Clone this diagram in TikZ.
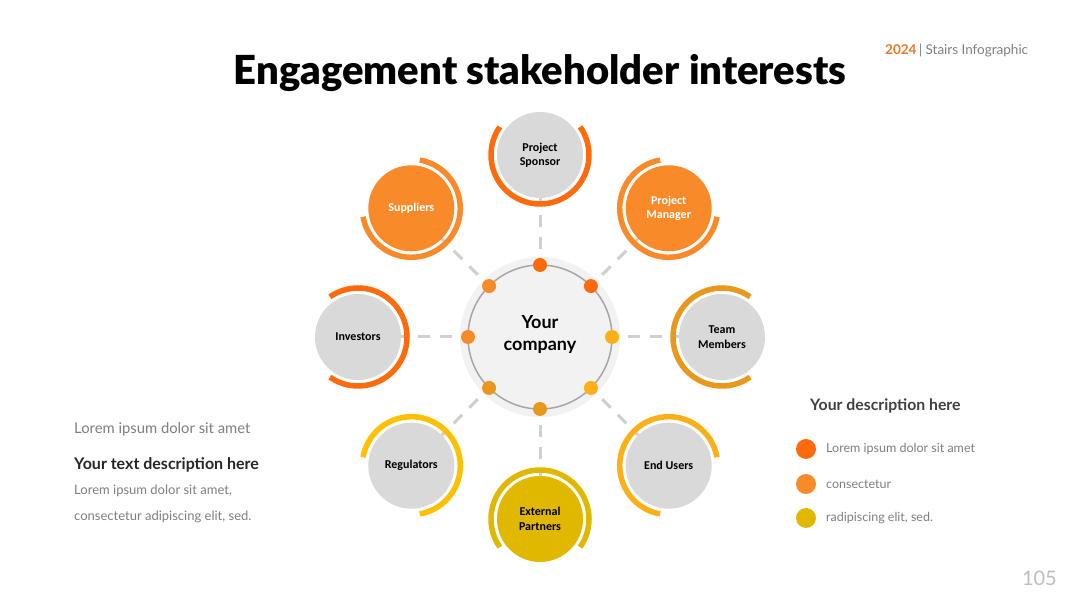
\documentclass[tikz,border=0pt]{standalone}
\usepackage{fontspec}
\setmainfont{Lato}
\newfontfamily\carl{Carlito}
\newfontfamily\titlefont{Lato Black}
\usetikzlibrary{backgrounds,calc}
\definecolor{cRed}{HTML}{FF6A0D}
\definecolor{cOrg}{HTML}{F98A2A}
\definecolor{cAmb}{HTML}{E8981C}
\definecolor{cAmb2}{HTML}{FBB017}
\definecolor{cYel}{HTML}{FFC000}
\definecolor{cGold}{HTML}{E0B800}
\definecolor{satgray}{HTML}{D9D9D9}
\definecolor{discgray}{HTML}{F2F2F2}
\definecolor{ringgray}{HTML}{A6A6A6}
\definecolor{linkgray}{HTML}{D0D0D0}
\definecolor{txtgray}{HTML}{7F7F7F}
\definecolor{dark}{HTML}{262626}
\definecolor{dark2}{HTML}{404040}
\definecolor{hdrorange}{HTML}{F07828}
\definecolor{pagegray}{HTML}{BFBFBF}
\begin{document}
\begin{tikzpicture}[x=1pt,y=1pt,
  sat/.style={circle, minimum size=86pt, inner sep=0pt, align=center,
    font=\carl\bfseries\fontsize{12}{14.5}\selectfont},
  arcln/.style={line width=5.5pt},
  link/.style={draw=linkgray, line width=3pt, dash pattern=on 12pt off 10pt},
  rdot/.style={circle, minimum size=14pt, inner sep=0pt},
  ldot/.style={circle, minimum size=20pt, inner sep=0pt},
  legtxt/.style={anchor=west, inner sep=0pt, text=txtgray, font=\fontsize{12.5}{15}\selectfont},
  lefttxt/.style={anchor=west, inner sep=0pt, text=txtgray},
]
\useasboundingbox (0,0) rectangle (1080,608);
\begin{pgfonlayer}{background}
  \fill[white] (0,0) rectangle (1080,608);
\end{pgfonlayer}

% title and header
\node[anchor=base, font=\titlefont\fontsize{40}{48}\selectfont] (title) at (540,523) {Engagement stakeholder interests};
\node[anchor=base west, inner sep=0pt, font=\fontsize{13.5}{16}\selectfont] (hdr) at (885,553)
  {\textcolor{hdrorange}{\textbf{2024}}\,\textcolor{txtgray}{| Stairs Infographic}};
\node[anchor=base east, inner sep=0pt, text=pagegray, font=\fontsize{20}{24}\selectfont] (page) at (1057,22) {105};

% center
\node[circle, fill=discgray, minimum size=160pt, inner sep=0pt] (C) at (540,271) {};
\draw[ringgray, line width=1.5pt] (C.center) circle (72);
\node[align=center, font=\bfseries\fontsize{18}{22}\selectfont] (ctext) at ([yshift=2.5pt]C.center) {Your\\company};

% satellites
\foreach \a/\n/\l/\f/\c/\t in {
  90/ps/{Project\\Sponsor}/satgray/cRed/black,
  45/pm/{Project\\Manager}/cOrg/cOrg/white,
  0/tm/{Team\\Members}/satgray/cAmb/black,
  -45/eu/{End Users}/satgray/cAmb2/black,
  -90/ep/{External\\Partners}/cGold/cGold/black,
  -135/rg/{Regulators}/satgray/cYel/black,
  180/iv/{Investors}/satgray/cRed/black,
  135/sp/{Suppliers}/cOrg/cOrg/white}{
  \node[sat, fill=\f, text=\t] (\n) at ($(C.center)+(\a:182)$) {\l};
  \draw[arcln, draw=\c] ([shift={(\a+55:49)}]\n.center) arc[start angle=\a+55, end angle=\a+305, radius=49];
  \begin{pgfonlayer}{background}
    \draw[link] (C.center) -- (\n.center);
  \end{pgfonlayer}
}

% ring dots
\foreach \a/\n/\c in {90/d1/cRed, 45/d2/cRed, 0/d3/cAmb2, -45/d4/cAmb2,
  -90/d5/cAmb, -135/d6/cAmb, 180/d7/cOrg, 135/d8/cOrg}{
  \node[rdot, fill=\c] (\n) at ($(C.center)+(\a:72)$) {};
}

% legend
\node[anchor=west, inner sep=0pt, text=dark2, font=\bfseries\fontsize{15.8}{19}\selectfont] (lt) at (810,202) {Your description here};
\node[ldot, fill=cRed] (l1) at (806,159) {};
\node[ldot, fill=cOrg] (l2) at (806,124) {};
\node[ldot, fill=cGold] (l3) at (806,90) {};
\node[legtxt] (t1) at (826,159) {Lorem ipsum dolor sit amet};
\node[legtxt] (t2) at (826,124) {consectetur};
\node[legtxt] (t3) at (826,90) {radipiscing elit, sed.};

% left text
\node[lefttxt, font=\fontsize{14.8}{17}\selectfont] (a1) at (74,179) {Lorem ipsum dolor sit amet};
\node[lefttxt, text=dark, font=\bfseries\fontsize{16}{19}\selectfont] (a2) at (74,143) {Your text description here};
\node[lefttxt, font=\fontsize{13}{15}\selectfont] (a3) at (74,117) {Lorem ipsum dolor sit amet,};
\node[lefttxt, font=\fontsize{13}{15}\selectfont] (a4) at (74,91) {consectetur adipiscing elit, sed.};
\end{tikzpicture}
\end{document}
